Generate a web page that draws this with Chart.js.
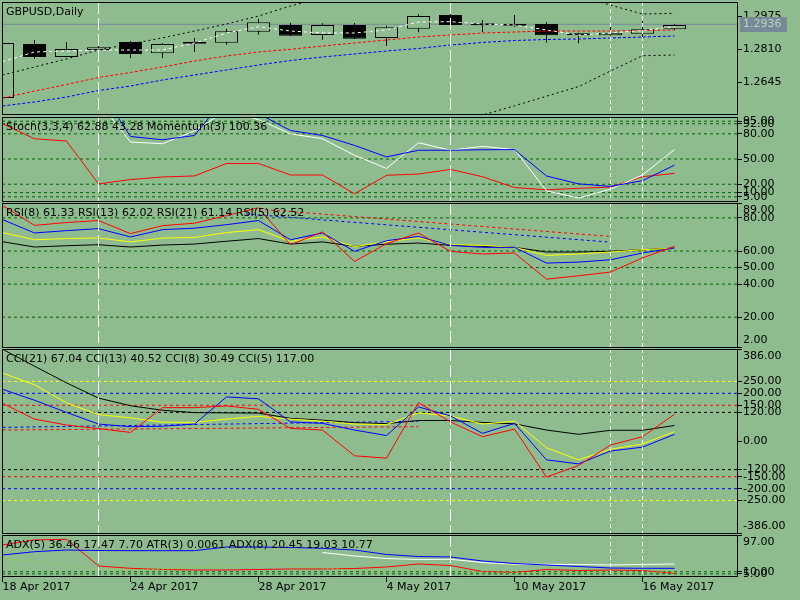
<!DOCTYPE html>
<html>
<head>
<meta charset="utf-8">
<script src="https://cdn.jsdelivr.net/npm/chart.js@4.4.0/dist/chart.umd.min.js"></script>
<style>
  html, body { margin: 0; padding: 0; background: #8fbc8f; }
  #wrap { position: relative; width: 800px; height: 600px; overflow: hidden; }
  #wrap canvas { position: absolute; left: 0; top: 0; }
</style>
</head>
<body>
<div id="wrap">
  <canvas id="price" width="800" height="600"></canvas>
  <canvas id="stoch" width="800" height="600"></canvas>
  <canvas id="rsi" width="800" height="600"></canvas>
  <canvas id="cci" width="800" height="600"></canvas>
  <canvas id="adx" width="800" height="600"></canvas>
</div>
<script>
// ---- data (bar 0 = 18 Apr 2017 ... bar 21 = 17 May 2017) ----
const dateBars = [0, 4, 8, 12, 16, 20];
const dateLabels = ['18 Apr 2017', '24 Apr 2017', '28 Apr 2017', '4 May 2017', '10 May 2017', '16 May 2017'];

const opens  = [1.2568, 1.28375, 1.27725, 1.28075, 1.28475, 1.2791, 1.2849, 1.2844, 1.2899, 1.29325, 1.28825, 1.29325, 1.28675, 1.2914, 1.29825, 1.29375, 1.29325, 1.29375, 1.2889, 1.2881, 1.2889, 1.2911];
const highs  = [1.2905, 1.28575, 1.2848, 1.2833, 1.2853, 1.2843, 1.28675, 1.2914, 1.2964, 1.2944, 1.2941, 1.29425, 1.2929, 1.2986, 1.2989, 1.29575, 1.29825, 1.29475, 1.2894, 1.2936, 1.2951, 1.29375];
const lows   = [1.2560, 1.27625, 1.2770, 1.2753, 1.2768, 1.2768, 1.27975, 1.2834, 1.2884, 1.2877, 1.2859, 1.28625, 1.28275, 1.2896, 1.2924, 1.28975, 1.2924, 1.2844, 1.2841, 1.2880, 1.2864, 1.29075];
const closes = [1.2843, 1.27725, 1.28125, 1.2821, 1.27875, 1.28375, 1.2839, 1.2901, 1.2946, 1.2879, 1.29325, 1.2864, 1.2921, 1.29775, 1.29325, 1.2931, 1.2929, 1.2881, 1.2881, 1.2894, 1.2911, 1.29325];

const maWhite = [1.2749, 1.27975, 1.28025, 1.28075, 1.28075, 1.28075, 1.28425, 1.28925, 1.2924, 1.29025, 1.28925, 1.28925, 1.29075, 1.29475, 1.2949, 1.29375, 1.29325, 1.29075, 1.28825, 1.28925, 1.2905, 1.2924];
const maRed   = [1.2566, 1.26025, 1.2635, 1.2670, 1.2695, 1.27225, 1.27525, 1.27775, 1.27975, 1.2811, 1.28275, 1.28425, 1.28575, 1.28725, 1.28825, 1.28925, 1.28975, 1.29025, 1.29025, 1.29025, 1.2905, 1.29075];
const maBlue  = [1.25275, 1.25475, 1.25725, 1.2605, 1.26275, 1.26575, 1.26825, 1.27075, 1.27325, 1.2755, 1.27725, 1.27875, 1.28025, 1.2815, 1.28325, 1.2845, 1.2855, 1.286, 1.28625, 1.28675, 1.28725, 1.28775];
const bandUpper = [1.26825, 1.27225, 1.27625, 1.28075, 1.2838, 1.2868, 1.29025, 1.29375, 1.29775, 1.30275, 1.3068, 1.3095, 1.3115, 1.3125, 1.3128, 1.3122, 1.311, 1.3095, 1.3078, 1.3032, 1.29875, 1.2991];
const bandLower = [1.2230, 1.2240, 1.2255, 1.2270, 1.2290, 1.2310, 1.2330, 1.2350, 1.2370, 1.2390, 1.2410, 1.2425, 1.2440, 1.2455, 1.2468, 1.24825, 1.25285, 1.25765, 1.26245, 1.27025, 1.2779, 1.27825];
const bidPrice = 1.2936;
const priceTicks = [1.2975, 1.2810, 1.2645];

const stochMain   = [120, 118, 116, 118, 70.2, 68.2, 83.5, 108, 97, 80, 74.1, 54.5, 38.8, 69.4, 60.4, 65.1, 61.2, 12.1, 3.5, 14.1, 30.9, 61.2];
const stochSignal = [118, 116, 112, 135, 76.8, 72.9, 78, 125, 104, 83.9, 78, 66.2, 52.5, 60.4, 60.4, 61, 61.2, 29.8, 20.4, 17.4, 24.2, 42.7];
const momentumRed = [92, 74.1, 71.3, 20.4, 25.5, 28.6, 29.8, 44.7, 44.7, 30.9, 30.9, 8.6, 30.6, 32.1, 37.6, 28.9, 16.0, 13.3, 15.1, 16.5, 28.9, 32.9];
const stochLevels = [95, 92, 80, 50, 20, 10, 5];

const rsi5  = [87.5, 75.5, 77.2, 78.4, 70.5, 75.3, 76.8, 81.4, 86.1, 63.8, 71.5, 53.7, 64.4, 70.9, 59.8, 58.2, 58.8, 43.0, 45.0, 47.3, 55.8, 62.8];
const rsi8  = [79, 70.9, 72.3, 73.5, 68.5, 72.9, 73.8, 75.9, 78.4, 66.8, 70.9, 59.8, 66.2, 68.8, 63.4, 62.2, 62.2, 52.7, 53.3, 54.7, 58.8, 61.8];
const rsi13 = [71.1, 66.8, 67.5, 67.9, 65.5, 67.8, 68.2, 71.1, 72.9, 65.8, 68.5, 62.6, 65.6, 67.9, 63.8, 63.4, 62.2, 57.3, 58.2, 59.4, 60.8, 61.7];
const rsi21 = [65.6, 62.4, 63.2, 63.8, 62.4, 63.6, 64.2, 65.9, 67.5, 64.2, 65.5, 62.8, 64.1, 64.8, 63.4, 62.8, 62.2, 59.4, 59.4, 59.8, 60.8, 61.8];
const rsiTrendRed  = [[8.2, 85.0], [19, 68.8]];
const rsiTrendBlue = [[7.6, 82.4], [18.9, 65.5]];
const rsiLevels = [80, 60, 50, 40, 20];
const rsiTicks = [89, 80, 60, 50, 40, 20, 2];

const cci21 = [385, 314, 244, 180, 148, 129, 119, 118, 117, 95, 87.5, 77, 73, 86, 86, 78, 72, 46, 28, 45, 45, 65];
const cci13 = [285, 236, 160, 111, 97, 79, 78, 92, 103, 92, 83, 71, 69, 118, 105, 71, 83, -28, -79, -35, -12, 39];
const cci8  = [217, 171, 120, 71, 60, 62, 71, 185, 177, 80, 74, 46, 23, 143, 105, 32, 74, -79, -96, -42, -26, 28];
const cci5  = [158, 92, 67, 52, 36, 140, 140, 147, 133, 53, 46, -62, -72, 161, 80, 18, 50, -151, -103, -17, 18, 112];
const cciTrendBlue = [[0, 57], [13, 83]];
const cciTrendRed  = [[0, 46], [13, 60]];
const cciLevels = [250, 200, 150, 120, -120, -150, -200, -250];
const cciTicks = [386, 250, 200, 150, 120, 0, -120, -150, -200, -250, -386];

const adxRed    = [73.3, 85.2, 86.8, 23.7, 18.2, 15.4, 14.2, 14.2, 15.4, 16.6, 16.6, 17.7, 21.3, 28.4, 24.8, 10.6, 8.3, 15.4, 13.0, 14.2, 13.0, 6.4];
const adxBlue   = [49.7, 57.5, 61.5, 60.3, 59.9, 59.9, 59.9, 68.6, 68.6, 67.4, 65.5, 61.5, 50.9, 46.1, 45, 35.5, 29.6, 26, 22.5, 18.9, 18.2, 18.2];
const adxWhite  = [null, null, null, null, null, null, null, null, null, null, 55.6, 47.3, 41.4, 39, 39.5, 31.9, 27.7, 27.7, 27.2, 26, 27.2, 28.4];
const atrLine   = [41.4, 33.8, 26, 15.9, 15.4, 15.9, 20.1, 23.7, 29.6, 26, 19.4, 13, 12.5, 14.2, 13, 9.5, 8.3, 8.3, 8.8, 8.8, 9.5, 9.5];
const adxLevels = [10, 5];
const adxTicks = [97, 10, 5];

const longDashBars = [3, 14];
const shortDashBars = [19, 20];

// ---- layout ----
const FONT = '11px "DejaVu Sans"';
const BG = '#8fbc8f';
const X_MIN = -1 / 64;
const X_MAX = X_MIN + 735 / 32;

const panels = {
  price: { top: 2, bottom: 114 },
  stoch: { top: 117, bottom: 201 },
  rsi:   { top: 203, bottom: 347 },
  cci:   { top: 349, bottom: 533 },
  adx:   { top: 535, bottom: 576 }
};

function pts(values) { return values.map((v, i) => ({ x: i, y: v })); }
function flat(v) { return [{ x: X_MIN, y: v }, { x: X_MAX, y: v }]; }
function seg(a) { return a.map(p => ({ x: p[0], y: p[1] })); }

function line(data, color, dash, order) {
  return {
    type: 'line', data, borderColor: color, borderWidth: 1,
    borderDash: dash || [], pointRadius: 0, fill: false, order
  };
}

function levelSets(levels, colors) {
  return levels.map((v, i) => line(flat(v), colors ? colors[i] : '#006400', [3, 3], 100));
}

function makeOptions(p, yMin, yMax, yTicks, showDates) {
  return {
    responsive: false,
    animation: false,
    events: [],
    layout: { padding: { left: 2, right: 0, top: p.top, bottom: showDates ? 0 : 600 - p.bottom } },
    plugins: { legend: { display: false }, tooltip: { enabled: false } },
    scales: {
      x: {
        type: 'linear', min: X_MIN, max: X_MAX, offset: false, display: showDates,
        afterBuildTicks: s => { s.ticks = dateBars.map(v => ({ value: v })); },
        afterFit: s => { s.height = showDates ? 24 : 0; },
        ticks: {
          autoSkip: false, maxRotation: 0, align: 'start', padding: 0, color: '#000',
          font: { family: 'DejaVu Sans', size: 11, lineHeight: 1 },
          callback: v => dateLabels[dateBars.indexOf(v)]
        },
        grid: { drawOnChartArea: false, offset: false, color: '#000', tickLength: 6 },
        border: { color: '#000' }
      },
      y: {
        type: 'linear', position: 'right', min: yMin, max: yMax,
        afterBuildTicks: s => { s.ticks = yTicks.map(v => ({ value: v })); },
        afterFit: s => { s.width = 63; },
        ticks: { display: false },
        grid: { drawOnChartArea: false, color: '#000', tickLength: 5 },
        border: { color: '#000' }
      }
    }
  };
}

// captions and right-hand labels for each panel
const panelDecor = {
  price: { caption: 'GBPUSD,Daily', ticks: priceTicks, digits: 4, bid: bidPrice },
  stoch: { caption: 'Stoch(3,3,4) 62.88 43.28 Momentum(3) 100.36', ticks: stochLevels, digits: 2 },
  rsi:   { caption: 'RSI(8) 61.33 RSI(13) 62.02 RSI(21) 61.14 RSI(5) 62.52', ticks: rsiTicks, digits: 2 },
  cci:   { caption: 'CCI(21) 67.04 CCI(13) 40.52 CCI(8) 30.49 CCI(5) 117.00', ticks: cciTicks, digits: 2 },
  adx:   { caption: 'ADX(5) 36.46 17.47 7.70 ATR(3) 0.0061 ADX(8) 20.45 19.03 10.77', ticks: adxTicks, digits: 2 }
};

const decor = {
  id: 'decor',
  afterDatasetsDraw(chart) {
    const cfg = panelDecor[chart.canvas.id];
    const ctx = chart.ctx;
    const a = chart.chartArea;
    const xs = chart.scales.x, ys = chart.scales.y;

    // vertical marker lines
    ctx.save();
    ctx.beginPath();
    ctx.rect(a.left, a.top, a.right - a.left, a.bottom - a.top);
    ctx.clip();
    ctx.strokeStyle = '#ffffff';
    ctx.lineWidth = 1;
    [[longDashBars, [12, 4]], [shortDashBars, [4, 3]]].forEach(([bars, dash]) => {
      ctx.setLineDash(dash);
      bars.forEach(b => {
        const x = Math.floor(xs.getPixelForValue(b)) + 0.5;
        ctx.beginPath();
        ctx.moveTo(x, a.top);
        ctx.lineTo(x, a.bottom);
        ctx.stroke();
      });
    });
    ctx.restore();

    ctx.save();
    // frame
    ctx.strokeStyle = '#000';
    ctx.lineWidth = 1;
    ctx.strokeRect(a.left + 0.5, a.top + 0.5, a.right - a.left, a.bottom - a.top);

    ctx.font = FONT;
    ctx.textBaseline = 'middle';
    ctx.textAlign = 'left';
    ctx.fillStyle = '#000';
    ctx.fillText(cfg.caption, a.left + 4, a.top + 10.5);

    // right axis labels, scale extremes pulled inside the panel
    cfg.ticks.forEach(v => {
      let y = ys.getPixelForValue(v);
      if (v === ys.max) y = a.top + 7;
      if (v === ys.min) y = a.bottom - 7;
      ctx.fillText(v.toFixed(cfg.digits), a.right + 6, y);
    });

    if (cfg.bid !== undefined) {
      const y = ys.getPixelForValue(cfg.bid);
      ctx.fillStyle = '#778899';
      ctx.fillRect(a.right + 3, Math.round(y) - 7, 47, 15);
      ctx.fillStyle = '#bcd4bc';
      ctx.fillText(cfg.bid.toFixed(4), a.right + 6, Math.round(y) + 0.5);
    }
    ctx.restore();
  }
};

// ---- price panel ----
new Chart(document.getElementById('price'), {
  type: 'bar',
  data: {
    datasets: [
      line(flat(bidPrice), '#778899', [], 90),
      {
        type: 'bar', data: lows.map((l, i) => ({ x: i, y: [l, highs[i]] })),
        backgroundColor: '#000', borderWidth: 0, grouped: false,
        barThickness: 1, maxBarThickness: 1, barPercentage: 1, categoryPercentage: 1,
        inflateAmount: 0, order: 80
      },
      {
        type: 'bar', data: opens.map((o, i) => ({ x: i, y: [o, closes[i]] })),
        backgroundColor: opens.map((o, i) => o > closes[i] ? '#000' : BG),
        borderColor: '#000', borderWidth: 1, borderSkipped: false, grouped: false,
        barThickness: 23, maxBarThickness: 23, barPercentage: 1, categoryPercentage: 1,
        minBarLength: 2, inflateAmount: 0, order: 70
      },
      line(pts(bandUpper), '#000', [2, 3], 40),
      line(pts(bandLower), '#000', [2, 3], 39),
      line(pts(maBlue), '#0000ff', [3, 2], 30),
      line(pts(maRed), '#ff0000', [3, 2], 20),
      line(pts(maWhite), '#ffffff', [3, 3], 10)
    ]
  },
  options: makeOptions(panels.price, 1.24875, 1.30475, priceTicks, false),
  plugins: [decor]
});

// ---- stochastic / momentum panel ----
new Chart(document.getElementById('stoch'), {
  type: 'line',
  data: {
    datasets: levelSets(stochLevels).concat([
      line(pts(momentumRed), '#ff0000', [], 30),
      line(pts(stochMain), '#ffffff', [], 20),
      line(pts(stochSignal), '#0000ff', [], 10)
    ])
  },
  options: makeOptions(panels.stoch, 0, 100, stochLevels, false),
  plugins: [decor]
});

// ---- RSI panel ----
new Chart(document.getElementById('rsi'), {
  type: 'line',
  data: {
    datasets: levelSets(rsiLevels).concat([
      line(seg(rsiTrendRed), '#ff0000', [3, 3], 60),
      line(seg(rsiTrendBlue), '#0000ff', [3, 3], 59),
      line(pts(rsi21), '#000000', [], 40),
      line(pts(rsi13), '#ffff00', [], 30),
      line(pts(rsi8), '#0000ff', [], 20),
      line(pts(rsi5), '#ff0000', [], 10)
    ])
  },
  options: makeOptions(panels.rsi, 2, 89, rsiTicks, false),
  plugins: [decor]
});

// ---- CCI panel ----
const cciLevelColors = ['#ffff00', '#0000ff', '#ff0000', '#000000', '#000000', '#ff0000', '#0000ff', '#ffff00'];
new Chart(document.getElementById('cci'), {
  type: 'line',
  data: {
    datasets: levelSets(cciLevels, cciLevelColors).concat([
      line(seg(cciTrendBlue), '#0000ff', [3, 3], 60),
      line(seg(cciTrendRed), '#ff0000', [3, 3], 59),
      line(pts(cci21), '#000000', [], 40),
      line(pts(cci13), '#ffff00', [], 30),
      line(pts(cci8), '#0000ff', [], 20),
      line(pts(cci5), '#ff0000', [], 10)
    ])
  },
  options: makeOptions(panels.cci, -386, 386, cciTicks, false),
  plugins: [decor]
});

// ---- ADX / ATR panel with the date axis ----
new Chart(document.getElementById('adx'), {
  type: 'line',
  data: {
    datasets: levelSets(adxLevels).concat([
      line(pts(adxRed), '#ff0000', [], 40),
      line(pts(adxWhite), '#ffffff', [], 30),
      line(pts(adxBlue), '#0000ff', [], 20),
      line(pts(atrLine), '#9acd32', [2, 3], 10)
    ])
  },
  options: makeOptions(panels.adx, 0, 97, adxTicks, true),
  plugins: [decor]
});
</script>
</body>
</html>
